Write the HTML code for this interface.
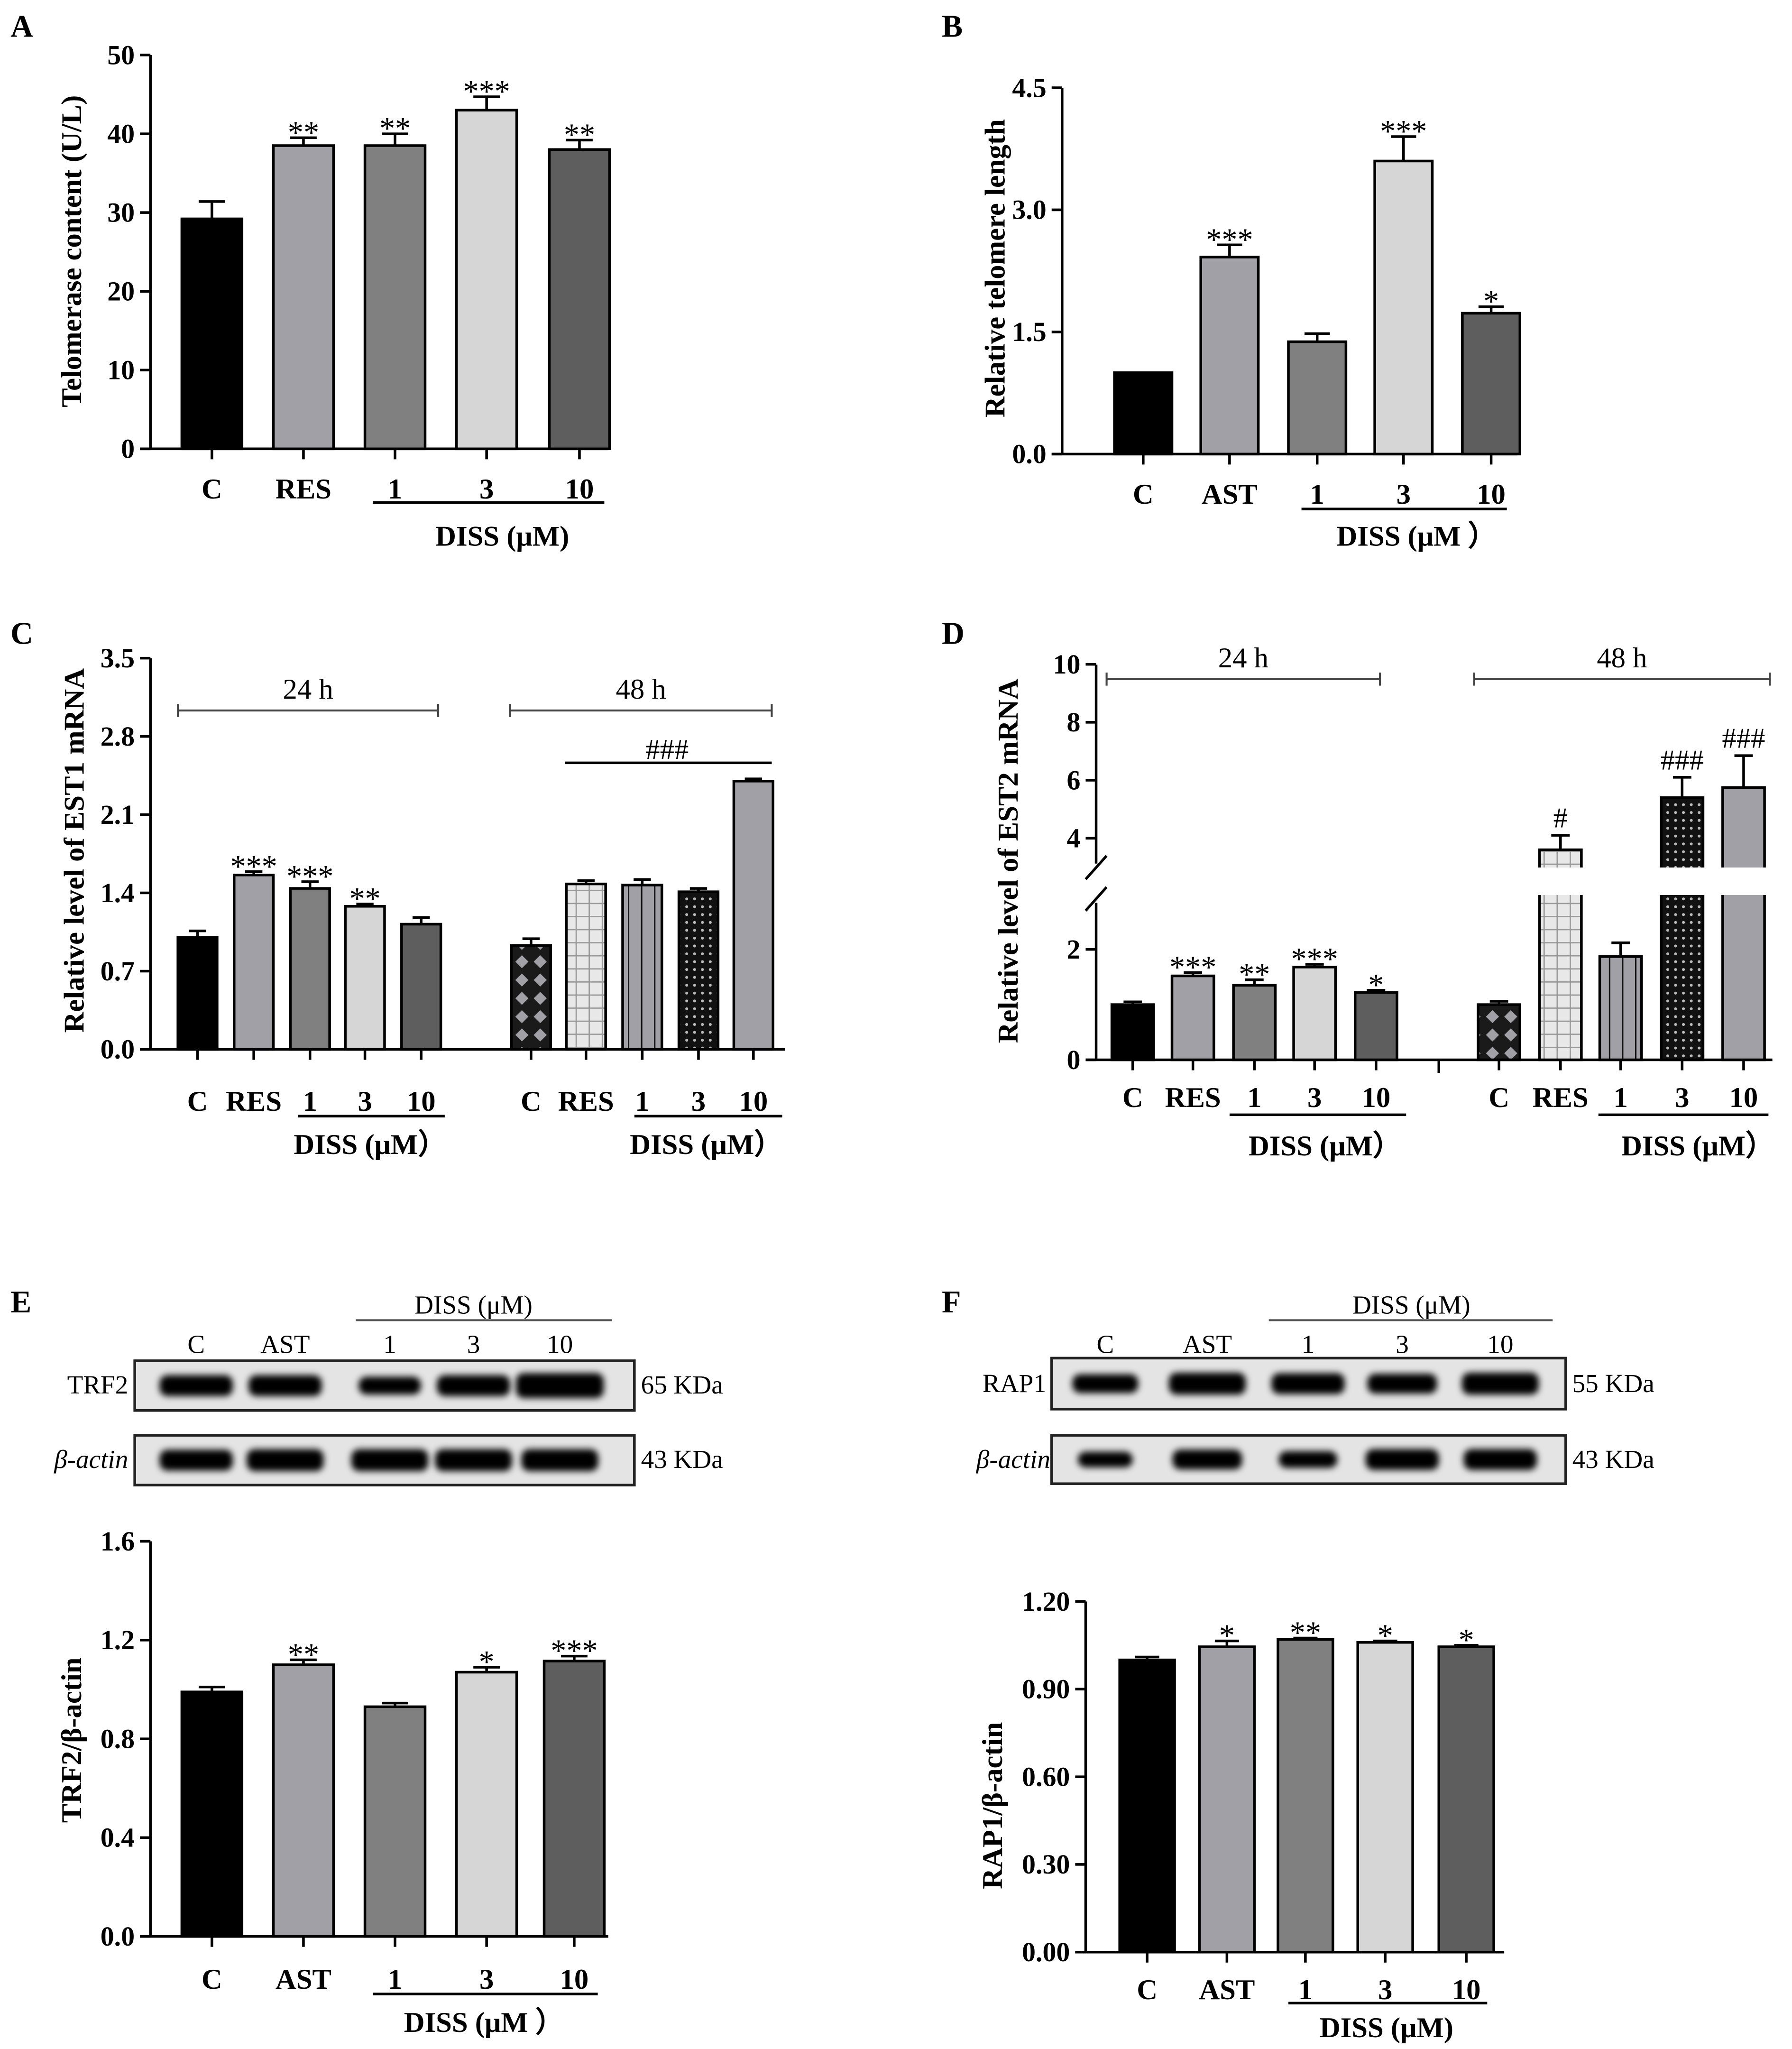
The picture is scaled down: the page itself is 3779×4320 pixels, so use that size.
<!DOCTYPE html>
<html><head><meta charset="utf-8">
<style>
html,body{margin:0;padding:0;background:#fff;}
svg{display:block;}
text{font-family:"Liberation Serif",serif;}
</style></head>
<body>
<svg id="fig" width="3779" height="4320" viewBox="0 0 1370 1566" xmlns="http://www.w3.org/2000/svg">
<defs>
<pattern id="pDiamond" width="14" height="14" patternUnits="userSpaceOnUse"><rect width="14" height="14" fill="#1a1a1a"/><path d="M7 2 L12 7 L7 12 L2 7Z" fill="#a0a0a6"/></pattern>
<pattern id="pGrid" width="10" height="10" patternUnits="userSpaceOnUse"><rect width="10" height="10" fill="#e8e8e8"/><path d="M0 0.5H10M0.5 0V10" stroke="#999" stroke-width="1"/></pattern>
<pattern id="pStripe" width="10" height="10" patternUnits="userSpaceOnUse"><rect width="10" height="10" fill="#a0a0a6"/><path d="M0.5 0V10" stroke="#111" stroke-width="1.2"/></pattern>
<pattern id="pDot" width="6" height="6" patternUnits="userSpaceOnUse"><rect width="6" height="6" fill="#111"/><circle cx="3" cy="3" r="1.1" fill="#bbb"/></pattern>
<filter id="blur" x="-20%" y="-50%" width="140%" height="200%"><feGaussianBlur stdDeviation="2.5"/></filter>
</defs>
<g id="root"></g>
</svg>
<script>
// ---- data ----
const catsA = ["C","RES","1","3","10"];
const valsA = [29.2,38.5,38.5,43.0,38.0];
const errA = [2.2,1.0,1.5,1.7,1.2];
const sigA = ["","**","**","***","**"];
const ticksA = [0,10,20,30,40,50];

const catsB = ["C","AST","1","3","10"];
const valsB = [1.0,2.42,1.38,3.6,1.73];
const errB = [0,0.15,0.1,0.3,0.08];
const sigB = ["","***","","***","*"];
const ticksB = [0,1.5,3.0,4.5];

const catsC = ["C","RES","1","3","10","C","RES","1","3","10"];
const valsC = [1.0,1.56,1.44,1.28,1.12,0.93,1.48,1.47,1.41,2.4];
const errC = [0.06,0.03,0.06,0.02,0.06,0.06,0.03,0.05,0.03,0.02];
const sigC = ["","***","***","**","","","","","",""];
const ticksC = [0,0.7,1.4,2.1,2.8,3.5];

const catsD = ["C","RES","1","3","10","C","RES","1","3","10"];
const valsD = [1.0,1.52,1.35,1.68,1.22,1.0,3.6,1.87,5.4,5.75];
const errD = [0.05,0.06,0.1,0.05,0.04,0.06,0.5,0.25,0.7,1.1];
const sigD = ["","***","**","***","*","","#","","###","###"];
const ticksDLow = [0,2];
const ticksDHigh = [4,6,8,10];

const catsE = ["C","AST","1","3","10"];
const valsE = [0.99,1.10,0.93,1.07,1.115];
const errE = [0.02,0.02,0.015,0.02,0.02];
const sigE = ["","**","","*","***"];
const ticksE = [0,0.4,0.8,1.2,1.6];

const catsF = ["C","AST","1","3","10"];
const valsF = [1.0,1.045,1.07,1.06,1.045];
const errF = [0.01,0.02,0.005,0.005,0.005];
const sigF = ["","*","**","*","*"];
const ticksF = [0,0.3,0.6,0.9,1.2];

const bandTRF2 = [1.0,1.0,0.85,1.0,1.2];
const bandActinE = [1.0,1.05,1.05,1.05,1.05];
const bandRAP1 = [0.9,1.05,1.0,0.95,1.05];
const bandActinF = [0.75,0.95,0.8,1.0,1.0];

const NS="http://www.w3.org/2000/svg";
const root=document.getElementById('root');
function el(tag,attrs,parent,txt){const e=document.createElementNS(NS,tag);for(const k in attrs)e.setAttribute(k,attrs[k]);if(txt!==undefined)e.textContent=txt;(parent||root).appendChild(e);return e;}
function txt(x,y,s,size,opts,parent){opts=opts||{};const t=el('text',{x:x,y:y,'font-size':size,'text-anchor':opts.anchor||'middle','font-weight':opts.bold?'bold':'normal','fill':'#000'},parent,s);
if(opts.rot)t.setAttribute('transform','rotate(-90 '+x+' '+y+')');
if(opts.italic)t.setAttribute('font-style','italic');
return t;}
const solid=["#000","#a0a0a6","#808080","#d6d6d6","#5e5e5e"];
const pats=["url(#pDiamond)","url(#pGrid)","url(#pStripe)","url(#pDot)","#a0a0a6"];

function drawChart(c){
  const g=el('g',{},root);
  
  
  const y=c.yf;
  if(!c.broken){el('line',{x1:c.ax,y1:c.top,x2:c.ax,y2:c.bot,stroke:'#000','stroke-width':2},g);}
  el('line',{x1:c.ax-8,y1:c.bot,x2:c.axEnd,y2:c.bot,stroke:'#000','stroke-width':2},g);
  c.ticks.forEach(t=>{const yy=y(t);el('line',{x1:c.ax-8,y1:yy,x2:c.ax,y2:yy,stroke:'#000','stroke-width':2},g);
    const lab=txt(c.ax-12,yy+7,c.tfmt(t),21,{anchor:'end',bold:true},g);});
  c.vals.forEach((v,i)=>{
    const cx=c.xs[i],w=c.bw;const yt=y(v),ye=y(v+c.errs[i]);
    const r=el('rect',{x:cx-w/2,y:yt,width:w,height:c.bot-yt,fill:c.fills[i],stroke:'#000','stroke-width':2},g);
    
    
    if(c.errs[i]>0){el('line',{x1:cx,y1:yt,x2:cx,y2:ye,stroke:'#000','stroke-width':2},g);el('line',{x1:cx-w*0.22,y1:ye,x2:cx+w*0.22,y2:ye,stroke:'#000','stroke-width':2},g);}
    if(c.sig[i]){const hash=c.sig[i][0]==='#';const s=txt(cx,hash?ye-6:ye+4,c.sig[i],hash?22:24,{},g);}
    el('line',{x1:cx,y1:c.bot,x2:cx,y2:c.bot+8,stroke:'#000','stroke-width':2},g);
    const l=txt(cx,c.labY,c.cats[i],22,{bold:true},g);
  });
  const tt=txt(c.titleX,c.titleY,c.title,22,{bold:true,rot:true},g);
  
  return g;
}
function linY(lo,hi,top,bot){return v=>bot-(v-lo)/(hi-lo)*(bot-top);}
function diss(x1,x2,yl,tx,ty,s){el('line',{x1:x1,y1:yl,x2:x2,y2:yl,stroke:'#000','stroke-width':2});const t=txt(tx,ty,s,22,{bold:true});}
function letter(x,y,s){const t=txt(x,y,s,24,{anchor:'start',bold:true});}
function bracket(x1,x2,yy,s){el('line',{x1:x1,y1:yy,x2:x2,y2:yy,stroke:'#444','stroke-width':1.5});el('line',{x1:x1,y1:yy-5,x2:x1,y2:yy+5,stroke:'#444','stroke-width':1.5});el('line',{x1:x2,y1:yy-5,x2:x2,y2:yy+5,stroke:'#444','stroke-width':1.5});const t=txt((x1+x2)/2,yy-9,s,22,{});}
const f1=v=>v.toFixed(1), f0=v=>String(v), f2=v=>v.toFixed(2);

letter(8,28,'A');letter(720,28,'B');letter(8,492,'C');letter(720,492,'D');letter(8,1003,'E');letter(720,1003,'F');

drawChart({name:'chart-a',ax:115,axEnd:465,top:42,bot:343,yf:linY(0,50,42,343),ticks:ticksA,tfmt:f0,vals:valsA,errs:errA,sig:sigA,cats:catsA,xs:[162,232,302,372,443],bw:46,fills:solid,labY:381,title:'Telomerase content (U/L)',titleX:62,titleY:192});
diss(285,462,384,384,417,'DISS (μM)');
drawChart({name:'chart-b',ax:812,axEnd:1160,top:67,bot:347,yf:linY(0,4.5,67,347),ticks:ticksB,tfmt:f1,vals:valsB,errs:errB,sig:sigB,cats:catsB,xs:[874,940,1007,1073,1140],bw:44,fills:solid,labY:385,title:'Relative telomere length',titleX:768,titleY:205});
diss(995,1152,389,1083,417,'DISS (μM ）');
drawChart({name:'chart-c',ax:115,axEnd:600,top:503,bot:802,yf:linY(0,3.5,503,802),ticks:ticksC,tfmt:f1,vals:valsC,errs:errC,sig:sigC,cats:catsC,xs:[151,194,237,279,322,406,448,491,534,576],bw:30,fills:solid.concat(pats),labY:849,title:'Relative level of EST1 mRNA',titleX:64,titleY:650});
bracket(136,335,543,'24 h');bracket(390,590,543,'48 h');
el('line',{x1:432,y1:583,x2:590,y2:583,stroke:'#000','stroke-width':2});txt(510,580,'###',22,{});
diss(228,340,853,283,882,'DISS (μM）');diss(485,598,853,540,882,'DISS (μM）');
const yD=v=> v<=3.5 ? 810-v*42.2 : 640.6-(v-4)*22.15;
const gD=drawChart({name:'chart-d',broken:true,ax:838,axEnd:1355,top:508,bot:810,yf:yD,ticks:ticksDLow.concat(ticksDHigh),tfmt:f0,vals:valsD,errs:errD,sig:sigD,cats:catsD,xs:[866,912,959,1005,1052,1146,1193,1239,1286,1333],bw:32,fills:solid.concat(pats),labY:846,title:'Relative level of EST2 mRNA',titleX:778,titleY:658});
el('rect',{x:1120,y:663,width:240,height:21,fill:'#fff'},gD);
el('line',{x1:838,y1:508,x2:838,y2:660,stroke:'#000','stroke-width':2},gD);
el('line',{x1:838,y1:690,x2:838,y2:810,stroke:'#000','stroke-width':2},gD);
el('line',{x1:830,y1:672,x2:846,y2:654,stroke:'#000','stroke-width':2},gD);
el('line',{x1:830,y1:696,x2:846,y2:678,stroke:'#000','stroke-width':2},gD);
bracket(846,1055,519,'24 h');bracket(1127,1353,519,'48 h');
el('line',{x1:1100,y1:810,x2:1100,y2:820,stroke:'#000','stroke-width':2});
diss(940,1075,852,1013,883,'DISS (μM）');diss(1222,1352,852,1298,883,'DISS (μM）');

function blot(x1,x2,y1,y2,xs,vals,name){
  const g=el('g',{},root);
  
  
  el('rect',{x:x1,y:y1,width:x2-x1,height:y2-y1,fill:'#e4e4e4',stroke:'#222','stroke-width':2},g);
  const cy=(y1+y2)/2;
  vals.forEach((v,i)=>{el('rect',{x:xs[i]-28*v,y:cy-8*v,width:56*v,height:16*v,rx:6,fill:'#000',filter:'url(#blur)'},g);});
}
function blotLabels(xs,cats,yl,dx1,dx2,dy,dtx){cats.forEach((c,i)=>txt(xs[i],yl,c,20,{}));el('line',{x1:dx1,y1:dy,x2:dx2,y2:dy,stroke:'#555','stroke-width':1.5});txt(dtx,dy-5,'DISS (μM)',20,{});}
const xsE=[150,218,298,362,428], xsF=[845,923,1000,1072,1147];
blotLabels(xsE,catsE,1034,272,468,1009,362);
blot(103,485,1040,1078,xsE,bandTRF2,'trf2-blot');blot(103,485,1097,1135,xsE,bandActinE,'actin-blot-e');
txt(98,1065,'TRF2',20,{anchor:'end'});txt(98,1122,'β-actin',20,{anchor:'end',italic:true});
txt(490,1065,'65 KDa',20,{anchor:'start'});txt(490,1122,'43 KDa',20,{anchor:'start'});
blotLabels(xsF,catsF,1034,970,1187,1009,1079);
blot(804,1197,1038,1077,xsF,bandRAP1,'rap1-blot');blot(804,1197,1097,1134,xsF,bandActinF,'actin-blot-f');
txt(800,1064,'RAP1',20,{anchor:'end'});txt(803,1122,'β-actin',20,{anchor:'end',italic:true});
txt(1202,1064,'55 KDa',20,{anchor:'start'});txt(1202,1122,'43 KDa',20,{anchor:'start'});

drawChart({name:'chart-e',ax:115,axEnd:465,top:1178,bot:1480,yf:linY(0,1.6,1178,1480),ticks:ticksE,tfmt:f1,vals:valsE,errs:errE,sig:sigE,cats:catsE,xs:[162,232,302,372,439],bw:46,fills:solid,labY:1520,title:'TRF2/β-actin',titleX:62,titleY:1330});
diss(285,457,1524,370,1553,'DISS (μM ）');
drawChart({name:'chart-f',ax:830,axEnd:1150,top:1224,bot:1492,yf:linY(0,1.2,1224,1492),ticks:ticksF,tfmt:f2,vals:valsF,errs:errF,sig:sigF,cats:catsF,xs:[877,938,998,1059,1121],bw:42,fills:solid,labY:1528,title:'RAP1/β-actin',titleX:766,titleY:1380});
diss(985,1137,1531,1060,1557,'DISS (μM)');
</script>
</body></html>
